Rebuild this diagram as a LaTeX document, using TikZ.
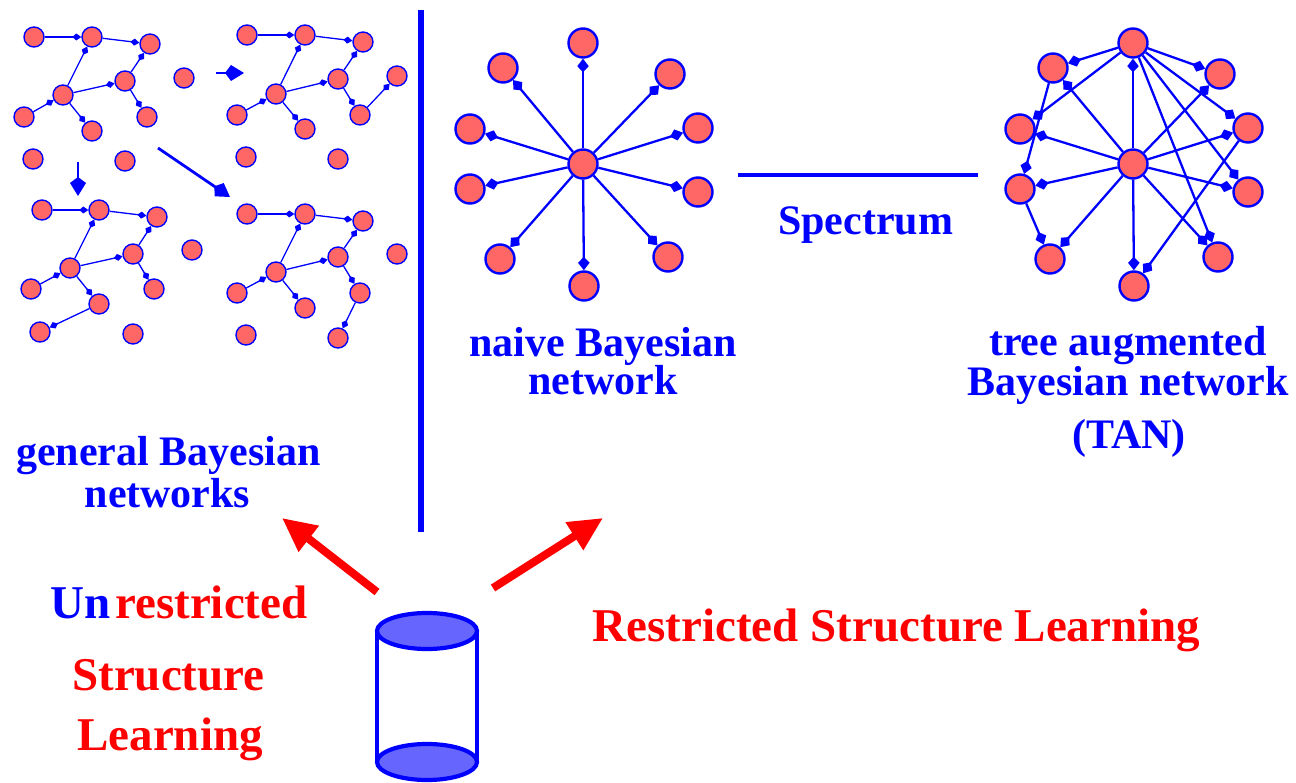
\documentclass[tikz,border=0pt]{standalone}
\usepackage{fontspec}
\setmainfont{Liberation Serif}
\usetikzlibrary{arrows.meta}
\definecolor{nodefill}{RGB}{255,102,102}
\definecolor{dbfill}{RGB}{102,102,255}
\begin{document}
\begin{tikzpicture}[x=1pt,y=-1pt,
  sn/.style={circle,draw=blue,fill=nodefill,line width=1.4pt,minimum size=20pt,inner sep=0pt},
  bn/.style={circle,draw=blue,fill=nodefill,line width=2.4pt,minimum size=29pt,inner sep=0pt},
  se/.style={draw=blue,line width=1.3pt,-{Kite[length=9pt,width=7pt,inset=4pt,line width=0pt]}},
  be/.style={draw=blue,line width=2.3pt,-{Kite[length=13.5pt,width=11.5pt,inset=6pt,line width=0pt]}},
  step arrow/.style={draw=blue,line width=2.8pt,-{Kite[length=19pt,width=16pt,inset=6pt,line width=0pt]}},
  red arrow/.style={draw=red,line width=8pt,-{Triangle[length=34pt,width=31pt]}},
  bluetxt/.style={inner sep=0pt,anchor=base,text=blue,font=\fontsize{42}{42}\selectfont\bfseries},
  redtxt/.style={inner sep=0pt,anchor=base,text=red,font=\fontsize{47}{47}\selectfont\bfseries}]
\useasboundingbox (0,0) rectangle (1296,783);

% ---- four general Bayesian networks ----
\node[sn] (pa) at (34,37) {};  \node[sn] (pb) at (92,37) {};  \node[sn] (pc) at (150,44) {};
\node[sn] (pd) at (184,78) {}; \node[sn] (pe) at (125,81) {}; \node[sn] (pf) at (63,95) {};
\node[sn] (pg) at (24,117) {}; \node[sn] (ph) at (147,117) {}; \node[sn] (pi) at (92,131) {};
\node[sn] (pj) at (33,159) {}; \node[sn] (pk) at (125,161) {};
\draw[se] (pa) -- (pb); \draw[se] (pb) -- (pc); \draw[se] (pf) -- (pb); \draw[se] (pf) -- (pe);
\draw[se] (pe) -- (pc); \draw[se] (pe) -- (ph); \draw[se] (pg) -- (pf); \draw[se] (pf) -- (pi);

\node[sn] (qa) at (247,35) {};  \node[sn] (qb) at (305,35) {};  \node[sn] (qc) at (363,42) {};
\node[sn] (qe) at (338,79) {};  \node[sn] (qx) at (397,76) {};  \node[sn] (qf) at (276,94) {};
\node[sn] (qg) at (237,115) {}; \node[sn] (qh) at (360,115) {}; \node[sn] (qi) at (305,129) {};
\node[sn] (qj) at (246,157) {}; \node[sn] (qk) at (338,159) {};
\draw[se] (qa) -- (qb); \draw[se] (qb) -- (qc); \draw[se] (qf) -- (qb); \draw[se] (qf) -- (qe);
\draw[se] (qe) -- (qc); \draw[se] (qe) -- (qh); \draw[se] (qg) -- (qf); \draw[se] (qf) -- (qi);
\draw[se] (qh) -- (qx);

\node[sn] (ra) at (42,210) {};  \node[sn] (rb) at (99,210) {};  \node[sn] (rc) at (157,217) {};
\node[sn] (rd) at (192,250) {}; \node[sn] (re) at (133,254) {}; \node[sn] (rf) at (70,268) {};
\node[sn] (rg) at (31,289) {};  \node[sn] (rh) at (154,289) {}; \node[sn] (ri) at (99,304) {};
\node[sn] (rj) at (40,332) {};  \node[sn] (rk) at (133,334) {};
\draw[se] (ra) -- (rb); \draw[se] (rb) -- (rc); \draw[se] (rf) -- (rb); \draw[se] (rf) -- (re);
\draw[se] (re) -- (rc); \draw[se] (re) -- (rh); \draw[se] (rg) -- (rf); \draw[se] (rf) -- (ri);
\draw[se] (ri) -- (rj);

\node[sn] (sa) at (247,214) {}; \node[sn] (sb) at (305,214) {}; \node[sn] (sc) at (363,221) {};
\node[sn] (sx) at (397,254) {}; \node[sn] (se) at (338,257) {}; \node[sn] (sf) at (276,272) {};
\node[sn] (sg) at (237,293) {}; \node[sn] (sh) at (360,293) {}; \node[sn] (si) at (305,308) {};
\node[sn] (sj) at (246,335) {}; \node[sn] (sk) at (338,338) {};
\draw[se] (sa) -- (sb); \draw[se] (sb) -- (sc); \draw[se] (sf) -- (sb); \draw[se] (sf) -- (se);
\draw[se] (se) -- (sc); \draw[se] (se) -- (sh); \draw[se] (sg) -- (sf); \draw[se] (sf) -- (si);
\draw[se] (sh) -- (sk);

% search steps between the networks
\coordinate (m1) at (216,73);  \coordinate (m2) at (244,73);
\coordinate (d1) at (78,162);  \coordinate (d2) at (78,196);
\coordinate (g1) at (158,148); \coordinate (g2) at (230,197);
\draw[step arrow] (m1) -- (m2);
\draw[step arrow] (d1) -- (d2);
\draw[step arrow] (g1) -- (g2);

% separator
\coordinate (v1) at (421,10); \coordinate (v2) at (421,532);
\draw[blue,line width=6pt] (v1) -- (v2);

% ---- naive Bayesian network ----
\node[bn] (nc) at (583,164) {};
\node[bn] (n1) at (583,43) {};  \node[bn] (n2) at (503,68) {};  \node[bn] (n3) at (670,74) {};
\node[bn] (n4) at (470,129) {}; \node[bn] (n5) at (698,128) {}; \node[bn] (n6) at (470,189) {};
\node[bn] (n7) at (698,192) {}; \node[bn] (n8) at (500,259) {}; \node[bn] (n9) at (668,257) {};
\node[bn] (n10) at (584,286) {};
\foreach \k in {1,...,10} \draw[be] (nc) -- (n\k);

% ---- tree augmented naive Bayes ----
\node[bn] (tc) at (1133,164) {};
\node[bn] (t1) at (1133,43) {};  \node[bn] (t2) at (1053,68) {};  \node[bn] (t3) at (1220,74) {};
\node[bn] (t4) at (1020,129) {}; \node[bn] (t5) at (1248,128) {}; \node[bn] (t6) at (1020,189) {};
\node[bn] (t7) at (1248,192) {}; \node[bn] (t8) at (1050,259) {}; \node[bn] (t9) at (1218,257) {};
\node[bn] (t10) at (1134,286) {};
\foreach \k in {1,...,10} \draw[be] (tc) -- (t\k);
\draw[be] (t1) -- (t2); \draw[be] (t1) -- (t3); \draw[be] (t1) -- (t4);
\draw[be] (t1) -- (t5); \draw[be] (t1) -- (t7); \draw[be] (t1) -- (t9);
\draw[be] (t2) -- (t6); \draw[be] (t6) -- (t8); \draw[be] (t5) -- (t10);

% spectrum bar
\coordinate (sp1) at (738,175); \coordinate (sp2) at (978,175);
\draw[blue,line width=4.5pt] (sp1) -- (sp2);
\node[bluetxt] (spec) at (865.5,235) {Spectrum};

% labels
\node[bluetxt] (gen1) at (168.5,465) {general Bayesian};
\node[bluetxt] (gen2) at (167.5,507) {networks};
\node[bluetxt] (nb1) at (603,357) {naive Bayesian};
\node[bluetxt] (nb2) at (603,395) {network};
\node[bluetxt] (tan1) at (1128,356) {tree augmented};
\node[bluetxt] (tan2) at (1128,396) {Bayesian network};
\node[bluetxt] (tan3) at (1129,448) {(TAN)};

\node[redtxt,anchor=base west] (unr) at (50,618) {\textcolor{blue}{Un}\hspace{5pt}restricted};
\node[redtxt] (str) at (168.5,690) {Structure};
\node[redtxt] (lrn) at (170,750) {Learning};
\node[redtxt] (rsl) at (896.5,641) {Restricted Structure Learning};

% data cylinder
\fill[dbfill] (427,762) ellipse [x radius=50pt, y radius=18pt];
\draw[blue,line width=4.2pt] (427,762) ellipse [x radius=50pt, y radius=18pt];
\draw[blue,line width=4.2pt] (377,631) -- (377,762) (477,631) -- (477,762);
\filldraw[fill=dbfill,draw=blue,line width=4.2pt] (427,631) ellipse [x radius=50pt, y radius=18pt];

% learning arrows
\coordinate (ra1) at (377,592); \coordinate (ra2) at (282,518);
\coordinate (rb1) at (493,588); \coordinate (rb2) at (603,518);
\draw[red arrow] (ra1) -- (ra2);
\draw[red arrow] (rb1) -- (rb2);
\end{tikzpicture}
\end{document}
